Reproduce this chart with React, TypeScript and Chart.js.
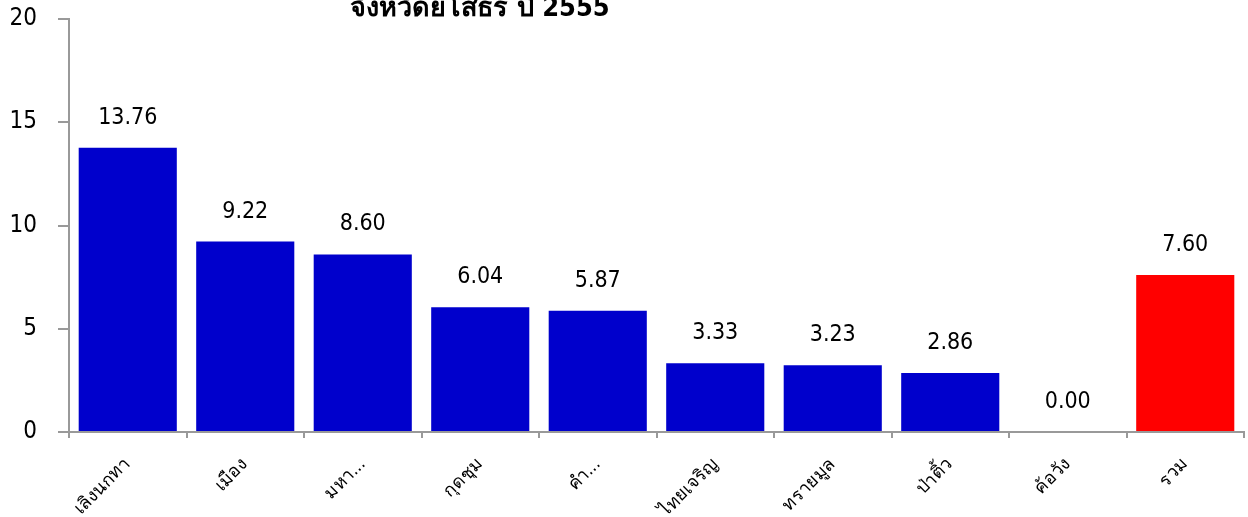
import React, { useEffect, useRef } from "react";
import { Chart, registerables } from "chart.js";

Chart.register(...registerables);

const categories = ["เลิงนกทา", "เมือง", "มหา...", "กุดชุม", "คำ...", "ไทยเจริญ", "ทรายมูล", "ป่าติ้ว", "ค้อวัง", "รวม"];
const values = [13.76, 9.22, 8.6, 6.04, 5.87, 3.33, 3.23, 2.86, 0.0, 7.6];
const barColors = ["#0000CC", "#0000CC", "#0000CC", "#0000CC", "#0000CC", "#0000CC", "#0000CC", "#0000CC", "#0000CC", "#FF0000"];
const titleText = "จังหวัดยโสธร ปี 2555";
const yTicks = [0, 5, 10, 15, 20];

const FONT = "'DejaVu Sans Condensed', 'DejaVu Sans', 'Noto Sans', sans-serif";

const labelPlugin = {
  id: "valueLabels",
  afterDatasetsDraw(chart: any) {
    const ctx = chart.ctx;
    const meta = chart.getDatasetMeta(0);
    ctx.save();
    ctx.font = `23px ${FONT}`;
    ctx.fillStyle = "#000";
    ctx.textAlign = "center";
    ctx.textBaseline = "middle";
    meta.data.forEach((bar: any, i: number) => {
      ctx.fillText(values[i].toFixed(2), bar.x, bar.y - 30);
    });
    ctx.font = `bold 27px ${FONT}`;
    ctx.textBaseline = "alphabetic";
    ctx.fillText(titleText, 480, 16);
    ctx.restore();
  },
};

export default function App() {
  const ref = useRef<HTMLCanvasElement>(null);
  useEffect(() => {
    const chart = new Chart(ref.current!, {
      type: "bar",
      data: {
        labels: categories,
        datasets: [
          {
            data: values,
            backgroundColor: barColors,
            barPercentage: 0.835,
            categoryPercentage: 1,
          },
        ],
      },
      options: {
        animation: false,
        responsive: false,
        layout: { padding: { top: 0, right: 4, left: 0, bottom: 0 } },
        plugins: { legend: { display: false }, tooltip: { enabled: false } },
        scales: {
          x: {
            grid: { drawOnChartArea: false, drawTicks: true, tickLength: 6, color: "#999", lineWidth: 2, offset: true },
            border: { color: "#999", width: 2 },
            ticks: {
              color: "#000",
              font: { size: 18, family: FONT },
              maxRotation: 45,
              minRotation: 45,
              autoSkip: false,
              padding: 16,
            },
            afterFit(scale: any) {
              scale.height = 85;
            },
          },
          y: {
            min: 0,
            max: 20,
            afterBuildTicks(scale: any) {
              scale.ticks = yTicks.map((v) => ({ value: v }));
            },
            grid: { drawOnChartArea: false, drawTicks: true, tickLength: 11, color: "#999", lineWidth: 2 },
            border: { color: "#999", width: 2 },
            ticks: { color: "#000", font: { size: 24, family: FONT }, padding: 21 },
            afterFit(scale: any) {
              scale.width = 69;
              scale.paddingTop = 19;
              scale.paddingBottom = 0;
            },
          },
        },
      },
      plugins: [labelPlugin],
    });
    return () => chart.destroy();
  }, []);
  return (
    <div style={{ position: "fixed", left: 0, top: 0, width: 1248, height: 517, background: "#fff" }}>
      <canvas ref={ref} width={1248} height={517} />
    </div>
  );
}
